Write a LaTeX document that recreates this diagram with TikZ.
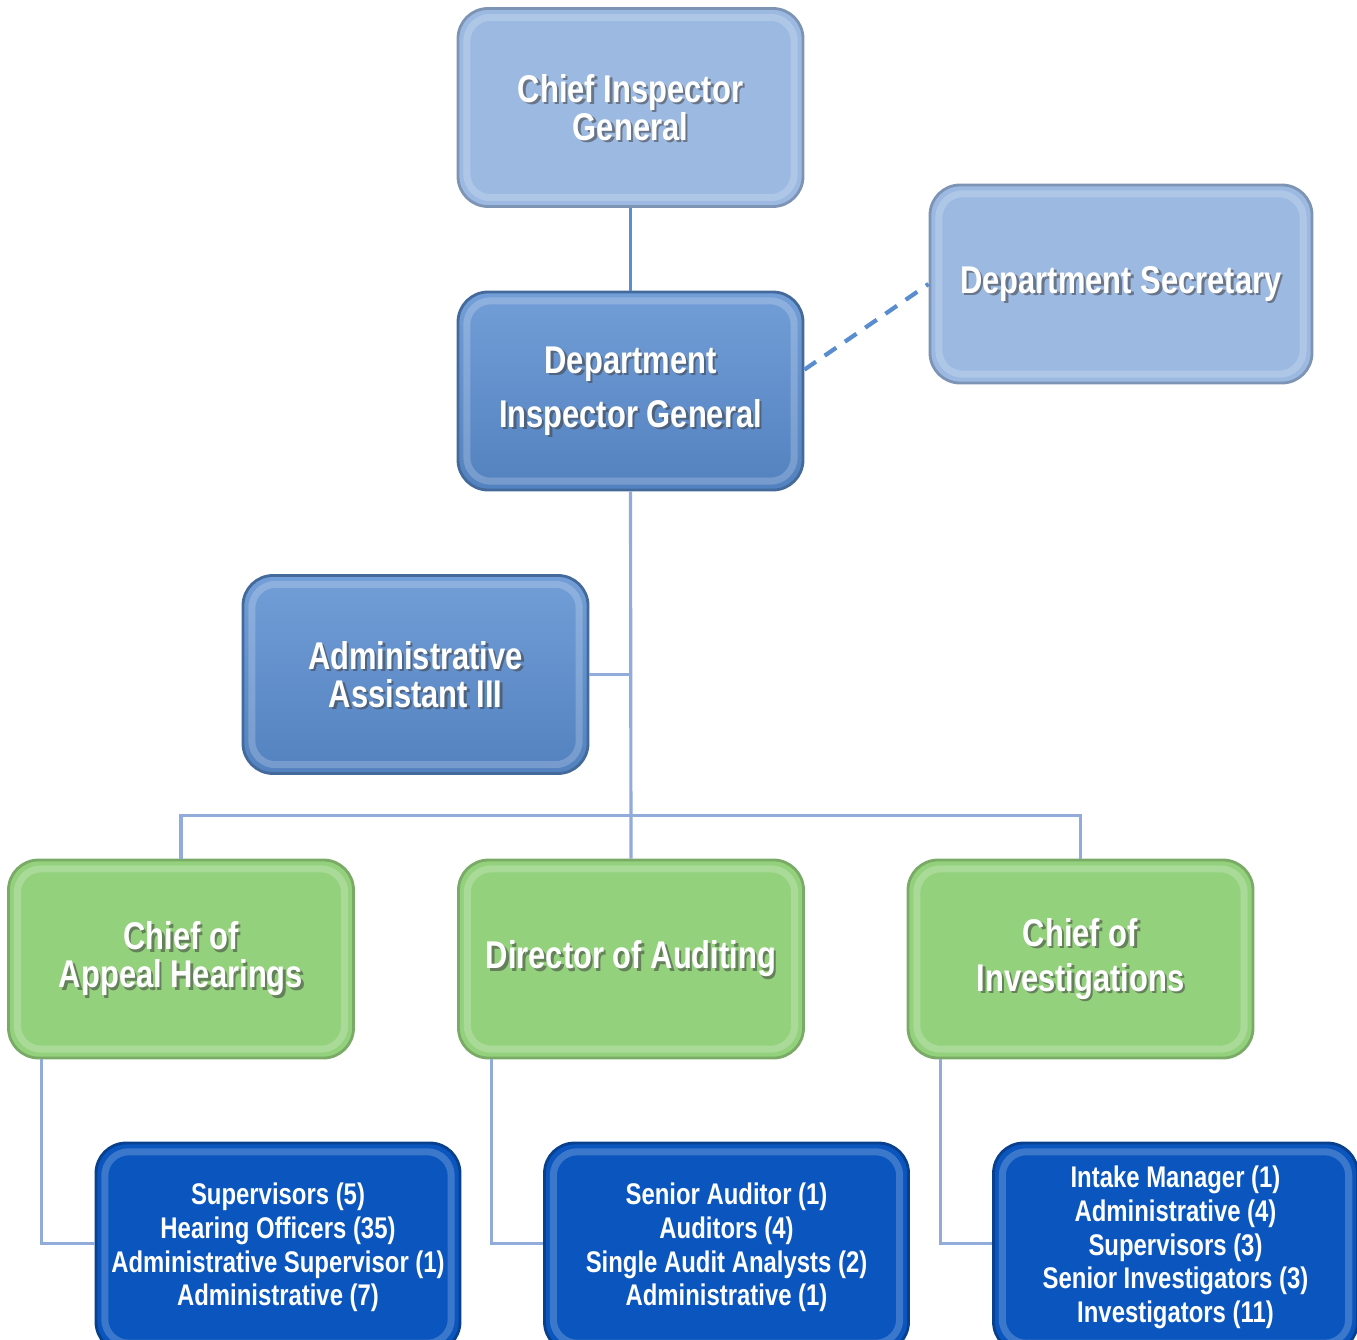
\documentclass[tikz,border=0pt]{standalone}
\usepackage{fontspec}
\setmainfont[FakeStretch=0.8]{Liberation Sans}
\usepackage{tikz}
\usepackage{xcolor}
\usetikzlibrary{calc}

\definecolor{lightblue}{HTML}{9CB9E2}
\definecolor{midblue}{HTML}{5A8DD0}
\definecolor{leafgreen}{HTML}{94D17D}
\definecolor{deepblue}{HTML}{0A55BE}
\definecolor{linkblue}{HTML}{91ABDA}

\tikzset{
  boxtext/.style={text=white, align=center, font=\bfseries\fontsize{11}{10.8}\selectfont},
  bevel/.style={path picture={
    \draw[white, opacity=0.2, line width=2pt, rounded corners=0.24cm]
      ([shift={(2.5pt,-2.5pt)}]path picture bounding box.north west) rectangle
      ([shift={(-2.5pt,2.5pt)}]path picture bounding box.south east);}},
  orgbox/.style={boxtext, rounded corners=0.3cm, minimum width=3.45cm, minimum height=1.98cm,
    inner sep=0pt, line width=0.8pt, text opacity=0, bevel},
  headbox/.style={orgbox, fill=lightblue, draw=lightblue!80!black},
  staffbox/.style={orgbox, top color=midblue!85!white, bottom color=midblue!92!black, draw=midblue!75!black},
  chiefbox/.style={orgbox, fill=leafgreen, draw=leafgreen!82!black},
  unitbox/.style={rounded corners=0.3cm, minimum width=3.64cm, minimum height=2.09cm,
    inner sep=0pt, line width=0.8pt, fill=deepblue, draw=deepblue!75!black, bevel,
    text=white, align=center, font=\bfseries\fontsize{8.5}{9.6}\selectfont},
  link/.style={draw=linkblue, line width=0.9pt}
}

% box with white shadowed text: name, position, style, text
\newcommand{\orgnode}[4]{%
  \node[#3] (#1) at #2 {#4};
  \node[boxtext, text=black!75, text opacity=0.55] at ([shift={(0.7pt,-0.7pt)}]#1.center) {#4};
  \node[boxtext] at (#1.center) {#4};
}

\begin{document}
\begin{tikzpicture}
  \useasboundingbox (0,0) rectangle (13.57,-13.40);

  \orgnode{cig}{(6.305,-1.075)}{headbox}{Chief Inspector\\General}
  \orgnode{dig}{(6.305,-3.91)}{staffbox}{Department\\[4.5pt]Inspector General}
  \orgnode{sec}{(11.21,-2.84)}{headbox, minimum width=3.82cm}{Department Secretary}
  \orgnode{adm}{(4.155,-6.745)}{staffbox}{Administrative\\Assistant III}
  \orgnode{cah}{(1.81,-9.59)}{chiefbox}{Chief of\\Appeal Hearings}
  \orgnode{doa}{(6.31,-9.59)}{chiefbox}{Director of Auditing}
  \orgnode{coi}{(10.805,-9.59)}{chiefbox}{Chief of\\[2pt]Investigations}

  \node[unitbox] (ah) at (2.78,-12.475) {Supervisors (5)\\Hearing Officers (35)\\Administrative Supervisor (1)\\Administrative (7)};
  \node[unitbox] (au) at (7.265,-12.475) {Senior Auditor (1)\\Auditors (4)\\Single Audit Analysts (2)\\Administrative (1)};
  \node[unitbox] (in) at (11.755,-12.475) {Intake Manager (1)\\Administrative (4)\\Supervisors (3)\\Senior Investigators (3)\\Investigators (11)};

  % connectors
  \draw[link, draw=midblue] (cig.south) -- (dig.north);
  \draw[link] (dig.south) -- (doa.north);
  \draw[link] (adm.east) -- (adm.east -| dig.south);
  \draw[link] (cah.north) -- ++(0,0.43) -| (coi.north);
  \draw[draw=midblue, line width=1.2pt, dash pattern=on 4pt off 3pt] (dig.7) -- (sec.west);
  \draw[link] ([yshift=0.4mm]ah.west) -| ([xshift=3.4mm]cah.south west);
  \draw[link] ([yshift=0.4mm]au.west) -| ([xshift=3.4mm]doa.south west);
  \draw[link] ([yshift=0.4mm]in.west) -| ([xshift=3.4mm]coi.south west);
\end{tikzpicture}
\end{document}
